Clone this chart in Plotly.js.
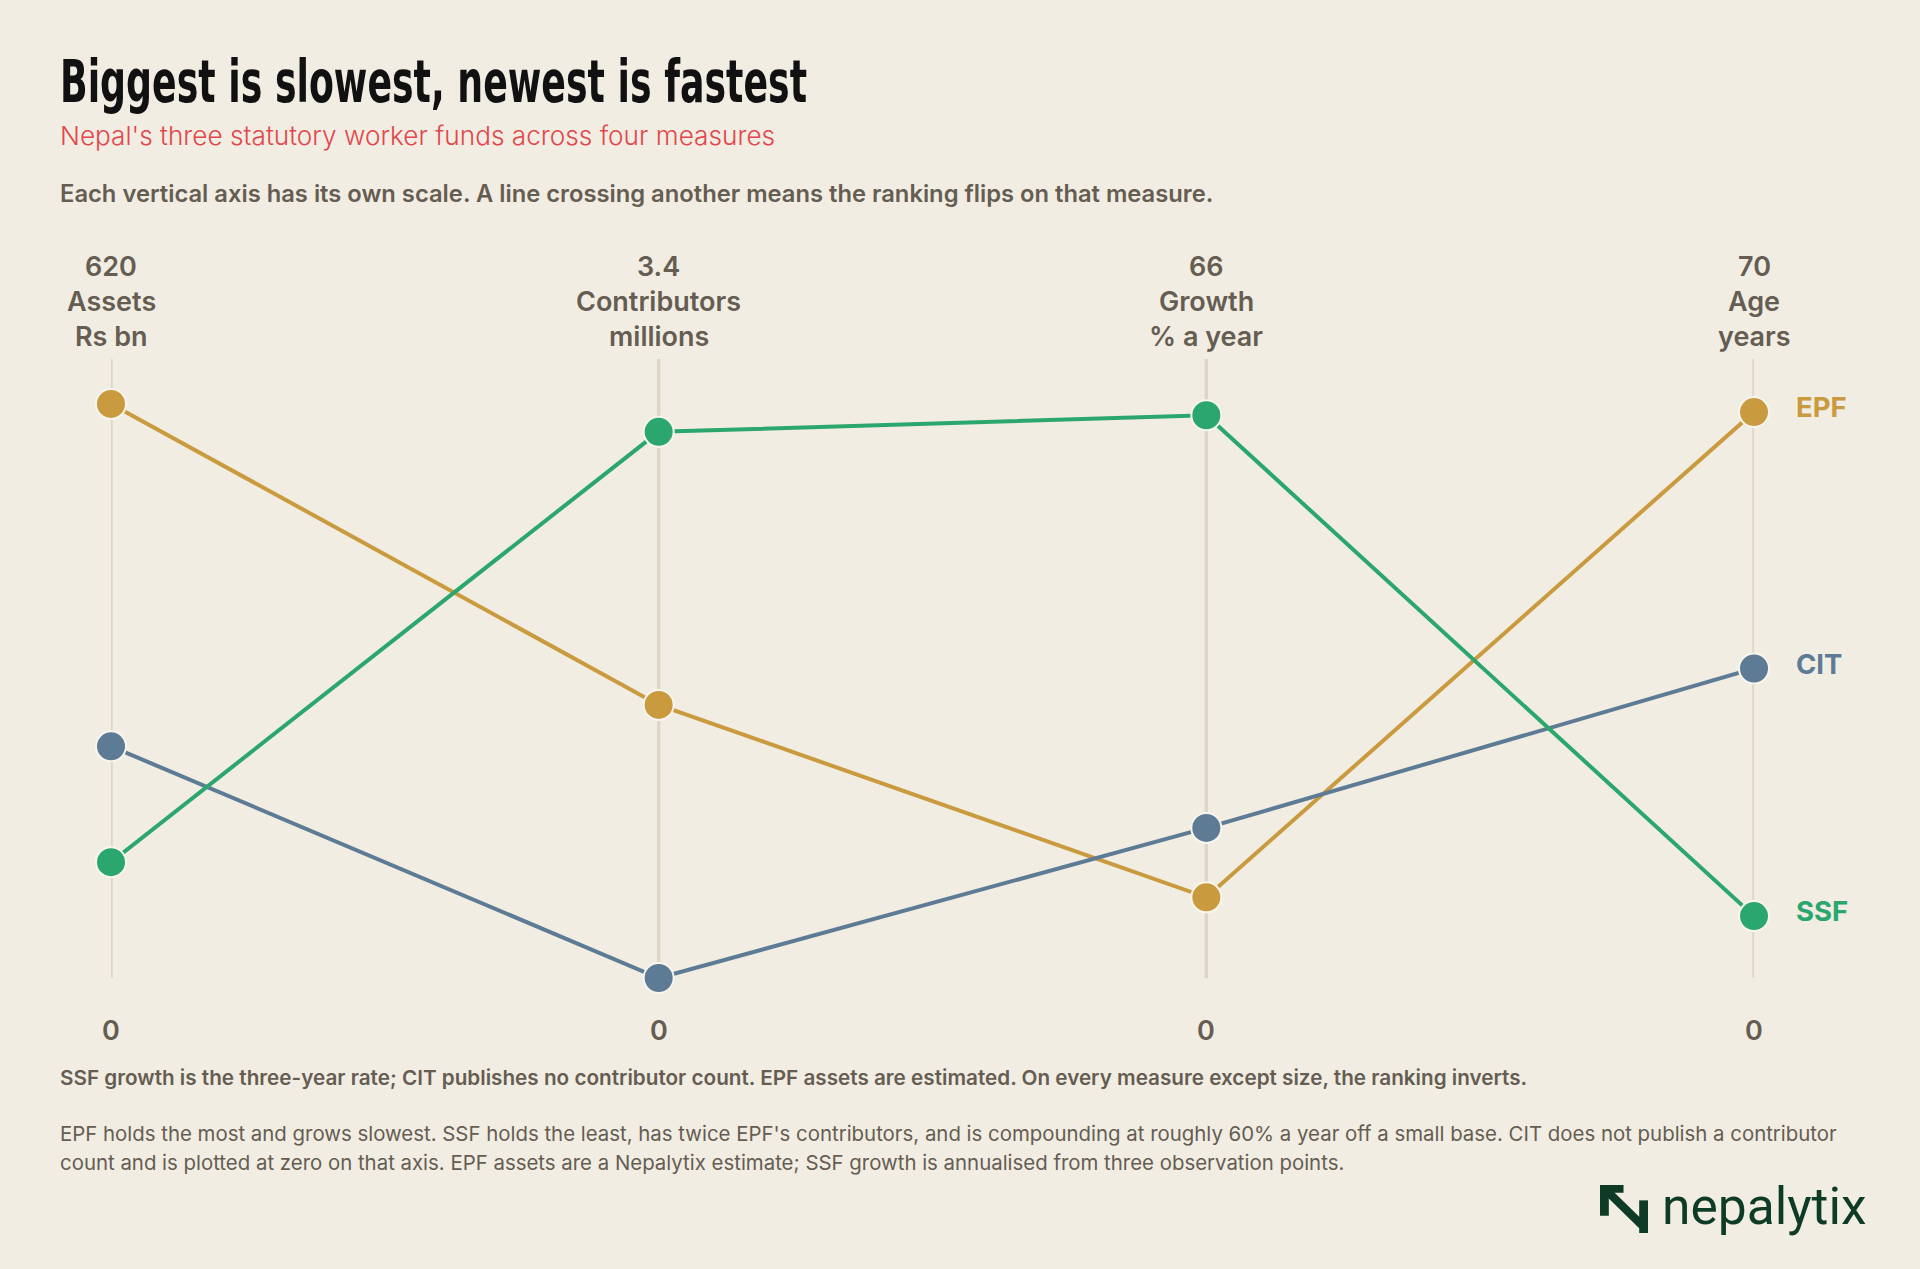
<!DOCTYPE html>
<html>
<head>
<meta charset="utf-8">
<script src="https://cdn.plot.ly/plotly-3.0.1.min.js"></script>
<style>
  html, body { margin: 0; padding: 0; background: #f1ede3; }
  #chart { width: 1920px; height: 1269px; }
</style>
</head>
<body>
<div id="chart"></div>
<script>
// ---------------- data ----------------
const measures = ['Assets', 'Contributors', 'Growth', 'Age'];
const units = ['Rs bn', 'millions', '% a year', 'years'];
const axisMax = [620, 3.4, 66, 70];
const axisMaxLabels = ['620', '3.4', '66', '70'];
const axisMinLabels = ['0', '0', '0', '0'];
const funds = ['EPF', 'CIT', 'SSF'];
const epfValues = [575, 1.5, 8.6, 64];
const citValues = [232, 0, 16, 35];
const ssfValues = [116, 3.0, 60, 7];
const fundValues = [epfValues, citValues, ssfValues];

const titleText = 'Biggest is slowest, newest is fastest';
const subtitleText = "Nepal's three statutory worker funds across four measures";
const noteText = 'Each vertical axis has its own scale. A line crossing another means the ranking flips on that measure.';
const footBold = 'SSF growth is the three-year rate; CIT publishes no contributor count. EPF assets are estimated. On every measure except size, the ranking inverts.';
const footLines = [
  "EPF holds the most and grows slowest. SSF holds the least, has twice EPF's contributors, and is compounding at roughly 60% a year off a small base. CIT does not publish a contributor",
  "count and is plotted at zero on that axis. EPF assets are a Nepalytix estimate; SSF growth is annualised from three observation points."
];

// ---------------- style ----------------
const W = 1920, H = 1269;
const M = { l: 111, r: 166, t: 359, b: 291 };
const PW = W - M.l - M.r, PH = H - M.t - M.b;
const px = v => (v - M.l) / PW;          // pixel x -> paper
const py = v => (H - M.b - v) / PH;      // pixel y -> paper
const fundColors = ['#c99a3e', '#5e7b96', '#2ba76e'];
const bg = '#f1ede3';
const ink = '#655d52';
const body = 'Inter, Roboto, "DejaVu Sans", sans-serif';

const xIdx = measures.map((_, i) => i);

const traces = funds.map((f, k) => ({
  type: 'scatter',
  mode: 'lines+markers',
  name: f,
  x: xIdx,
  y: fundValues[k].map((v, i) => v / axisMax[i]),
  line: { color: fundColors[k], width: 4 },
  marker: { size: 30, color: fundColors[k], line: { color: '#f8f5ee', width: 2 } },
  cliponaxis: false,
  hoverinfo: 'skip'
}));

const shapes = xIdx.map(i => ({
  type: 'line', xref: 'x', yref: 'y', x0: i, x1: i, y0: 0, y1: 1,
  line: { color: '#ddd6c6', width: 3.5 }, layer: 'below'
}));

const ann = [];
function txt(text, x, y, size, color, weight, family) {
  ann.push({ text, xref: 'paper', yref: 'paper', x, y, xanchor: 'left', yanchor: 'middle', align: 'left',
    showarrow: false, font: { size, color, weight: weight || 400, family: family || body } });
}
txt(titleText, px(58), py(82), 58, '#111111', 700, '"Liberation Sans Narrow", "DejaVu Sans Condensed", sans-serif');
txt(subtitleText, px(58), py(136), 26.2, '#e2474b', 300);
txt(noteText, px(58), py(194), 23.75, ink, 600);

xIdx.forEach(i => {
  [[axisMaxLabels[i], 266], [measures[i], 301], [units[i], 337], [axisMinLabels[i], 1030]].forEach(([t, yy]) => {
    ann.push({ text: t, xref: 'x', yref: 'paper', x: i, y: py(yy), xanchor: 'center', yanchor: 'middle', showarrow: false,
      font: { size: 27, color: ink, weight: 600, family: body } });
  });
});

funds.forEach((f, k) => {
  const last = measures.length - 1;
  ann.push({ text: f, xref: 'x', yref: 'y', x: last, y: fundValues[k][last] / axisMax[last], xanchor: 'left', yanchor: 'middle',
    xshift: 40, yshift: 5, showarrow: false, font: { size: 27.5, color: fundColors[k], weight: 700, family: body } });
});

txt(footBold, px(58), py(1077), 20.7, ink, 600);
txt(footLines[0], px(58), py(1133), 20.4, ink, 400);
txt(footLines[1], px(58), py(1162), 20.4, ink, 400);
txt('nepalytix', px(1660), py(1206), 51.5, '#0e3b26', 400, 'Roboto, "DejaVu Sans", sans-serif');

const logoSvg = '<svg xmlns="http://www.w3.org/2000/svg" viewBox="0 0 50 50">' +
  '<path fill="#0e3b26" d="M0 0 H24 V8 H9 V32 H0 Z"/>' +
  '<path fill="#0e3b26" d="M4 9 L10 3 L46 39 L40 45 Z"/>' +
  '<path fill="#0e3b26" d="M40 16 H49 V50 H40 Z"/></svg>';

const layout = {
  width: W, height: H,
  paper_bgcolor: bg, plot_bgcolor: bg,
  margin: M,
  showlegend: false,
  xaxis: { range: [0, measures.length - 1], visible: false, fixedrange: true },
  yaxis: { range: [0, 1], visible: false, fixedrange: true },
  shapes,
  annotations: ann,
  images: [{
    source: 'data:image/svg+xml;utf8,' + encodeURIComponent(logoSvg),
    xref: 'paper', yref: 'paper', x: px(1600), y: py(1185), sizex: 49 / PW, sizey: 48 / PH,
    xanchor: 'left', yanchor: 'top', sizing: 'stretch', layer: 'above'
  }]
};

Plotly.newPlot('chart', traces, layout, { displayModeBar: false, staticPlot: true }).then(gd => {
  // condense the headline to the reference's compressed display face
  const t = gd.querySelectorAll('.annotation-text')[0];
  if (t) {
    t.setAttribute('textLength', 747);
    t.setAttribute('lengthAdjust', 'spacingAndGlyphs');
  }
});
</script>
</body>
</html>
